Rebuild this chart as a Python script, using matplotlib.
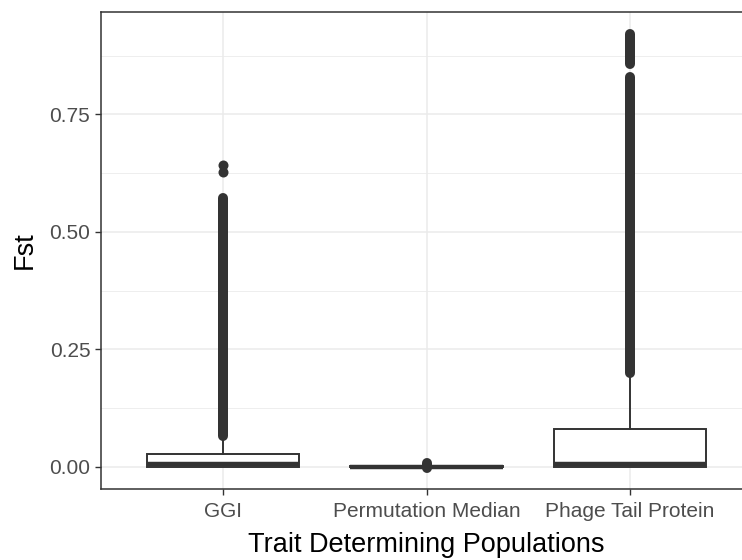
import matplotlib
matplotlib.use("Agg")
import matplotlib.pyplot as plt

plt.rcParams['font.family'] = ['Liberation Sans', 'DejaVu Sans']

# box summaries per group
categories = ["GGI", "Permutation Median", "Phage Tail Protein"]
q1 = [0.0, -0.0005, 0.0]
medians = [0.006, 0.0, 0.007]
q3 = [0.028, 0.001, 0.080]
whisker_low = [0.0, -0.001, 0.0]
whisker_high = [0.060, 0.002, 0.195]

# outliers: dense runs of points (low, high) and isolated points
outlier_runs = [
    [(0.065, 0.573)],
    [(-0.002, 0.008)],
    [(0.200, 0.830), (0.858, 0.922)],
]
outlier_points = [
    [0.627, 0.643],
    [],
    [],
]

yticks = [0.0, 0.25, 0.50, 0.75]
yticklabels = ["0.00", "0.25", "0.50", "0.75"]

dark = "#333333"
grid_col = "#EBEBEB"

fig = plt.figure(figsize=(7.42, 5.6), dpi=100)
# panel runs a little past the right edge of the figure
ax = fig.add_axes([101 / 742, 71 / 560, 651 / 742, 477 / 560])

positions = [1, 2, 3]
stats = []
for i, name in enumerate(categories):
    stats.append(dict(label=name, q1=q1[i], med=medians[i], q3=q3[i],
                      whislo=whisker_low[i], whishi=whisker_high[i], fliers=[]))

# outliers first so the boxes sit on top
for pos, runs, pts in zip(positions, outlier_runs, outlier_points):
    for lo, hi in runs:
        ax.vlines(pos, lo, hi, color=dark, linewidth=7.2, capstyle="round", zorder=2)
    if pts:
        ax.plot([pos] * len(pts), pts, "o", color=dark, markersize=7.2,
                markeredgewidth=0, zorder=2)

ax.bxp(stats, positions=positions, widths=0.75, patch_artist=True,
       showfliers=False, showcaps=False,
       boxprops=dict(facecolor="white", edgecolor=dark, linewidth=1.4),
       medianprops=dict(color=dark, linewidth=3.2, solid_capstyle="butt"),
       whiskerprops=dict(color=dark, linewidth=1.4),
       zorder=3)

ax.set_xlim(0.4, 3.6)
ax.set_ylim(-0.047, 0.968)
ax.set_xticks(positions)
ax.set_xticklabels(categories)
ax.set_yticks(yticks)
ax.set_yticklabels(yticklabels)
ax.set_yticks([0.125, 0.375, 0.625, 0.875], minor=True)

ax.grid(True, which="major", color=grid_col, linewidth=1.1, zorder=0)
ax.grid(True, which="minor", axis="y", color=grid_col, linewidth=0.6, zorder=0)
ax.set_axisbelow(True)

ax.tick_params(axis="both", which="major", direction="out", length=4.5, width=1,
               color=dark, labelcolor="#4D4D4D", labelsize=15, pad=3.2)
ax.tick_params(axis="x", which="major", pad=5)
ax.tick_params(axis="both", which="minor", length=0)
for s in ax.spines.values():
    s.set_color(dark)
    s.set_linewidth(1.1)

ax.set_xlabel("Trait Determining Populations", fontsize=19.5, color="black", labelpad=8)
ax.set_ylabel("Fst", fontsize=19.5, color="black", labelpad=8)

fig.savefig("out.png", dpi=100)
